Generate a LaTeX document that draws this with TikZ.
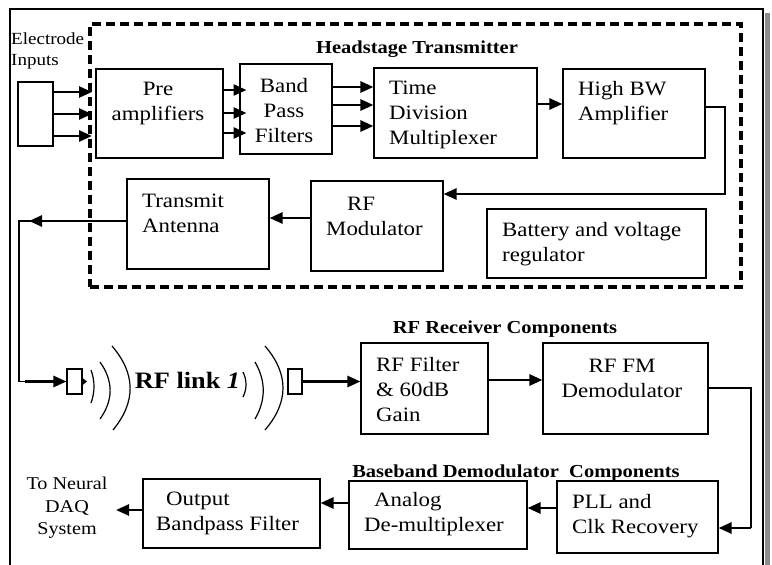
\documentclass[tikz,border=0pt]{standalone}
\usepackage{fontspec}
\setmainfont[FakeStretch=1.12]{Liberation Serif}
\usetikzlibrary{arrows.meta,calc}
\begin{document}
\begin{tikzpicture}[x=1pt,y=-1pt]
\tikzset{
  box/.style={draw, line width=1.1pt, inner sep=0pt},
  hsbox/.style={draw, line width=3.5pt, dash pattern=on 9pt off 5pt, inner sep=0pt},
  arr/.style={line width=2.6pt, -{Triangle[length=13pt,width=11pt]}},
  wire/.style={line width=1.2pt},
  txt/.style={font=\fontsize{20.4}{25}\selectfont, inner sep=0pt, yshift=-2.5pt},
  smalltxt/.style={font=\fontsize{17}{21}\selectfont, inner sep=0pt},
  ttl/.style={font=\fontsize{18.3}{22}\selectfont\bfseries, inner sep=0pt},
}
\useasboundingbox (0,0) rectangle (772,565);
% outer frame with shadow
\fill[black!45] (765,13) rectangle (770,565);
\draw[line width=1.5pt] (10,565) -- (10,9) -- (763,9) -- (763,565);
% headstage dashed region
\node[hsbox, minimum width=651pt, minimum height=263pt] (hs) at (415.5,155.5) {};
\node[ttl, anchor=base] (hst) at (417,53) {Headstage Transmitter};
\node[smalltxt, align=left, anchor=west] (elec) at (11,50.5) {Electrode\\Inputs};
% boxes
\node[box, minimum width=35pt, minimum height=64pt] (in) at (35.5,114) {};
\node[box, minimum width=127pt, minimum height=89pt] (pre) at (159.5,113.5) {};
\node[txt, align=center] (pret) at (158,100.5) {Pre\\amplifiers};
\node[box, minimum width=92pt, minimum height=90pt] (bpf) at (286,109) {};
\node[txt, align=center] (bpft) at (284,108) {Band\\Pass\\Filters};
\node[box, minimum width=163pt, minimum height=90pt] (tdm) at (455.5,113) {};
\node[txt, align=left, anchor=west] (tdmt) at (389,112) {Time\\Division\\Multiplexer};
\node[box, minimum width=142pt, minimum height=89pt] (hbw) at (634,113.5) {};
\node[txt, align=left, anchor=west] (hbwt) at (578,101) {High BW\\Amplifier};
\node[box, minimum width=142pt, minimum height=90pt] (ta) at (198,224) {};
\node[txt, align=left, anchor=west] (tat) at (142,211) {Transmit\\Antenna};
\node[box, minimum width=132pt, minimum height=90pt] (rfm) at (377,226) {};
\node[txt, align=left, anchor=west] (rfmt) at (326,213.5) {\hspace*{21pt}RF\\Modulator};
\node[box, minimum width=219pt, minimum height=69pt] (bat) at (596.5,243.5) {};
\node[txt, align=left, anchor=west] (batt) at (502,242) {Battery and voltage\\regulator};
% receiver
\node[ttl, anchor=base] (rxt) at (505,333) {RF Receiver Components};
\node[box, minimum width=15pt, minimum height=25pt] (ant1) at (74.5,381.5) {};
\node[box, minimum width=14pt, minimum height=25pt] (ant2) at (295,381.5) {};
\node[font=\fontsize{23.5}{28}\selectfont\bfseries, anchor=base, inner sep=0pt] (link) at (187.5,388) {RF link \textit{1}};
\node[box, minimum width=127pt, minimum height=91pt] (rff) at (424.5,388.5) {};
\node[txt, align=left, anchor=west] (rfft) at (376,387) {RF Filter\\\& 60dB\\Gain};
\node[box, minimum width=165pt, minimum height=91pt] (rffm) at (625.5,388.5) {};
\node[txt, align=center] (rffmt) at (622,375.5) {RF FM\\Demodulator};
\node[ttl, anchor=base] (bbt) at (516,477) {Baseband Demodulator\ \ Components};
\node[box, minimum width=161pt, minimum height=72pt] (pll) at (637.5,517) {};
\node[txt, align=left, anchor=west] (pllt) at (572,514) {PLL and\\Clk Recovery};
\node[box, minimum width=178pt, minimum height=68pt] (adm) at (438,515) {};
\node[txt, align=left, anchor=west] (admt) at (364,512) {\hspace*{10pt}Analog\\De-multiplexer};
\node[box, minimum width=177pt, minimum height=69pt] (obf) at (231.5,513.5) {};
\node[txt, align=left, anchor=west] (obft) at (156,511) {\hspace*{10pt}Output\\Bandpass Filter};
\node[font=\fontsize{18}{22.5}\selectfont, align=center, inner sep=0pt] (daq) at (67,508) {To Neural\\DAQ\\System};
% connectors
\foreach \y in {92,114,136} \draw[arr] (in.east |- 0,\y) -- (92,\y);
\foreach \y in {90,113,133} \draw[arr] (pre.east |- 0,\y) -- ++(23,0);
\foreach \y in {87,105,126} \draw[arr] (bpf.east |- 0,\y) -- (tdm.west |- 0,\y);
\draw[arr] (tdm.east |- 0,104) -- (hbw.west |- 0,104);
\draw[arr] (hbw.east |- 0,107) -- (725,107) -- (725,194) -- (rfm.east |- 0,194);
\draw[arr] (rfm.west |- 0,218) -- (ta.east |- 0,218);
\coordinate (tx1) at (19,221);
\coordinate (tx2) at (19,381.5);
\draw[wire] (ta.west |- 0,221) -- (tx1) -- (tx2) -- (ant1.west);
\draw[arr] (90,221) -- (29,221);
\draw[arr] (25,381.5) -- (ant1.west);
\fill (82,377.5) -- (87,381.5) -- (82,385.5) -- cycle;
% radio waves
\draw[wire] (91,370) .. controls (95,381) and (95,392) .. (91,403);
\draw[wire] (100,362) .. controls (113.5,381) and (113.5,400) .. (100,419);
\draw[wire] (112,346) .. controls (136,374) and (136,402) .. (113,430);
\draw[wire] (243,372) .. controls (247,380) and (247,389) .. (243,397);
\draw[wire] (255,362) .. controls (266,381) and (266,400) .. (255,419);
\draw[wire] (265,346) .. controls (289,374) and (289,402) .. (265,430);
\draw[arr] (ant2.east) -- (rff.west |- ant2.east);
\draw[arr] (rff.east |- 0,380) -- (rffm.west |- 0,380);
\coordinate (rx1) at (751,388);
\coordinate (rx2) at (751,528);
\draw[wire] (rffm.east |- rx1) -- (rx1) -- (rx2);
\draw[arr] (rx2) -- (pll.east |- rx2);
\draw[arr] (pll.west |- 0,508) -- (adm.east |- 0,508);
\draw[arr] (adm.west |- 0,503) -- (obf.east |- 0,503);
\draw[arr] (obf.west |- 0,510) -- (116,510);
\end{tikzpicture}
\end{document}
